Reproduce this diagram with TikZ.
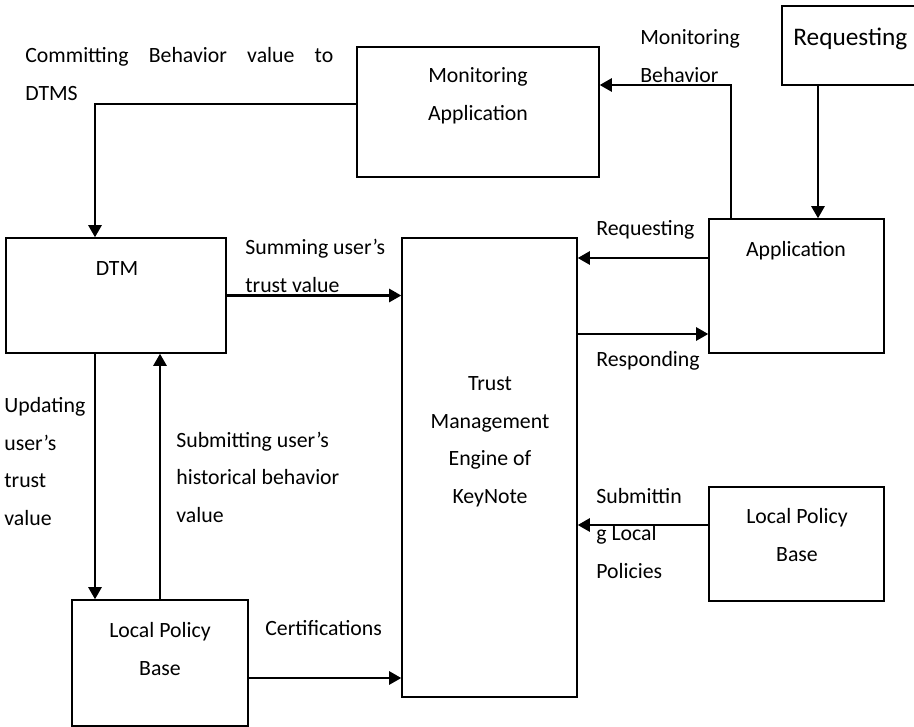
\documentclass[tikz,border=0pt]{standalone}
\usepackage{fontspec}
\setmainfont{Carlito}
\usetikzlibrary{arrows.meta}

\begin{document}
\begin{tikzpicture}[x=0.02cm,y=-0.02cm,
    box/.style={draw,line width=0.8pt,inner sep=0pt},
    arr/.style={line width=1.5pt,-{Triangle[length=7pt,width=7.5pt]}},
    lbl/.style={inner sep=0pt,align=left,font=\fontsize{12.4}{21.3}\selectfont},
    ctr/.style={lbl,align=center},
  ]
    \useasboundingbox (0,0) rectangle (914,727);
    % Boxes
    \node[box,minimum width=4.84cm,minimum height=2.6cm] (monapp) at (478,112) {};
    \node[box,minimum width=2.72cm,minimum height=1.58cm] (req) at (850,45.5) {};
    \node[box,minimum width=3.5cm,minimum height=2.68cm] (app) at (796.5,286) {};
    \node[box,minimum width=4.4cm,minimum height=2.3cm] (dtm) at (116,295.5) {};
    \node[box,minimum width=3.5cm,minimum height=9.18cm] (tme) at (489.5,467.5) {};
    \node[box,minimum width=3.5cm,minimum height=2.28cm] (lpbr) at (796.5,544) {};
    \node[box,minimum width=3.52cm,minimum height=2.52cm] (lpbl) at (160,663) {};
    % Box texts (base = last line)
    \node[ctr,anchor=base] (monapptxt) at (478,120) {Monitoring\\Application};
    \node[lbl,anchor=base west,font=\fontsize{14.4}{20}\selectfont] (reqtxt) at (793,45) {Requesting};
    \node[ctr,anchor=base] (apptxt) at (796,256) {Application};
    \node[ctr,anchor=base] (dtmtxt) at (117,275) {DTM};
    \node[ctr,anchor=base] (tmetxt) at (490,503) {Trust\\Management\\Engine of\\KeyNote};
    \node[ctr,anchor=base] (lpbrtxt) at (797,561) {Local Policy\\Base};
    \node[ctr,anchor=base] (lpbltxt) at (160,675) {Local Policy\\Base};
    % Arrows
    \draw[arr] (monapp.west |- 0,104) -| (95,0 |- dtm.north);
    \draw[arr] (app.north -| 731,0) |- (monapp.east |- 0,85);
    \draw[arr] (req.south -| 818,0) -- (app.north -| 818,0);
    \draw[arr] (dtm.east) -- (tme.west |- dtm.east);
    \draw[arr] (app.west |- 0,258) -- (tme.east |- 0,258);
    \draw[arr] (tme.east |- 0,334) -- (app.west |- 0,334);
    \draw[arr] (lpbr.west |- 0,525) -- (tme.east |- 0,525);
    \draw[arr] (dtm.south -| 95,0) -- (lpbl.north -| 95,0);
    \draw[arr] (lpbl.north -| 160,0) -- (dtm.south -| 160,0);
    \draw[arr] (lpbl.east |- 0,678) -- (tme.west |- 0,678);
    % Arrow labels
    \node[lbl,anchor=base west] (commit) at (25,100) {\makebox[6.16cm][s]{Committing Behavior value to}\\DTMS};
    \node[lbl,anchor=base west] (monbeh) at (640,82) {Monitoring\\Behavior};
    \node[lbl,anchor=base west] (reqlbl) at (596,235) {Requesting};
    \node[lbl,anchor=base west] (resplbl) at (596,366) {Responding};
    \node[lbl,anchor=base west] (sumlbl) at (245,292) {Summing user’s\\trust value};
    \node[lbl,anchor=base west] (updlbl) at (4,525) {Updating\\user’s\\trust\\value};
    \node[lbl,anchor=base west] (sublbl) at (176,522) {Submitting user’s\\historical behavior\\value};
    \node[lbl,anchor=base west] (certlbl) at (265,635) {Certifications};
    \node[lbl,anchor=base west] (pollbl) at (596,578) {Submittin\\g Local\\Policies};
\end{tikzpicture}
\end{document}
